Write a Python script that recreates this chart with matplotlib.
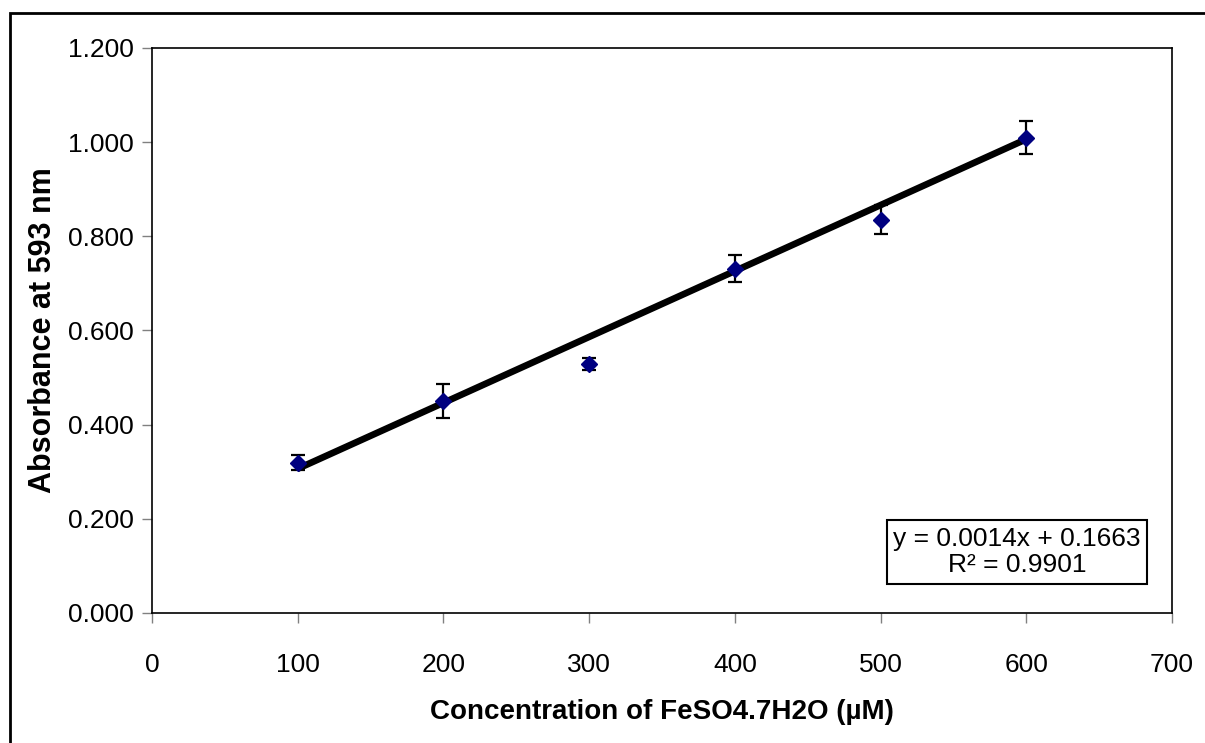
import numpy as np
import matplotlib
matplotlib.use("Agg")
import matplotlib.pyplot as plt
from matplotlib.patches import Rectangle

plt.rcParams['font.family'] = ['Liberation Sans', 'DejaVu Sans']

# FRAP calibration: ferrous sulfate standards
conc = [100, 200, 300, 400, 500, 600]
absorb = [0.319, 0.450, 0.529, 0.731, 0.835, 1.009]
absorb_err = [0.016, 0.036, 0.013, 0.029, 0.031, 0.035]

slope = 0.0014
intercept = 0.1663
r2 = 0.9901

x_ticks = [0, 100, 200, 300, 400, 500, 600, 700]
y_ticks = [0.0, 0.2, 0.4, 0.6, 0.8, 1.0, 1.2]

fig = plt.figure(figsize=(12.05, 7.43), dpi=100)
ax = fig.add_axes([0.1261, 0.1750, 0.8465, 0.7604])

# outer chart border
fig.patches.append(Rectangle((10 / 1205, -0.05), 1.2, 1 - 13 / 743 + 0.05,
                             transform=fig.transFigure, fill=False,
                             edgecolor='black', linewidth=2.0))

# trendline from the fitted equation
xl = np.array([conc[0], conc[-1]])
ax.plot(xl, slope * xl + intercept, color='black', linewidth=4.8,
        solid_capstyle='butt', zorder=2)

ax.errorbar(conc, absorb, yerr=absorb_err, fmt='none', ecolor='black',
            elinewidth=1.6, capsize=5, capthick=1.6, zorder=3)
ax.plot(conc, absorb, linestyle='none', marker='D', markersize=8.5,
        color='#000080', zorder=4)

ax.set_xlim(0, 700)
ax.set_ylim(0, 1.2)
ax.set_xticks(x_ticks)
ax.set_yticks(y_ticks)
ax.set_yticklabels(["%.3f" % v for v in y_ticks])
ax.tick_params(axis='both', direction='out', length=7, width=1,
               color='#808080', labelsize=19)
ax.tick_params(axis='x', pad=22)
ax.tick_params(axis='y', pad=6)

for sp in ax.spines.values():
    sp.set_color('black')
    sp.set_linewidth(1.2)

ax.set_xlabel("Concentration of FeSO4.7H2O (µM)", fontsize=20,
              fontweight='bold', labelpad=16)
ax.set_ylabel("Absorbance at 593 nm", fontsize=22, fontweight='bold',
              labelpad=7)

ax.text(0.848, 0.108,
        "y = %.4fx + %.4f\nR² = %.4f" % (slope, intercept, r2),
        transform=ax.transAxes, ha='center', va='center', fontsize=19,
        linespacing=1.1,
        bbox=dict(boxstyle='square,pad=0.25', facecolor='white',
                  edgecolor='black', linewidth=1.5))

plt.savefig("out.png", dpi=100)
plt.close(fig)
